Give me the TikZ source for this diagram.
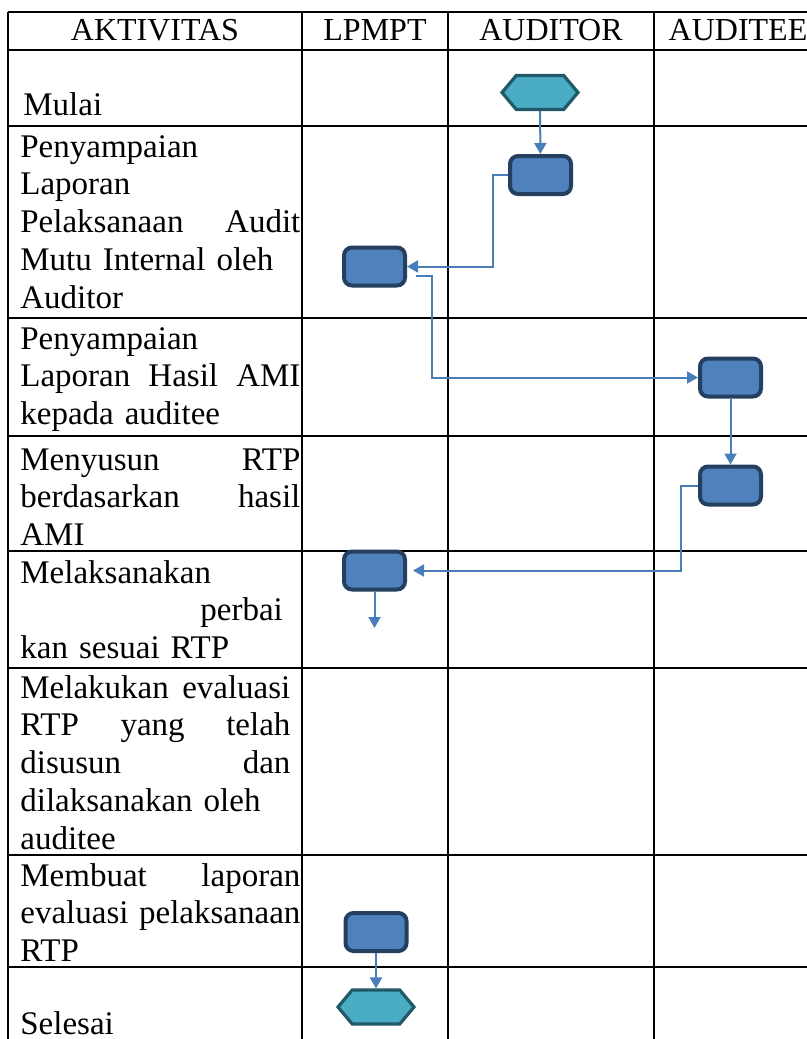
\documentclass[tikz,border=0pt]{standalone}
\usepackage{fontspec}
\setmainfont{Liberation Serif}
\usetikzlibrary{arrows.meta,shapes.symbols}

\definecolor{boxfill}{HTML}{4F81BD}
\definecolor{boxline}{HTML}{243F60}
\definecolor{hexfill}{HTML}{4BACC6}
\definecolor{hexline}{HTML}{215968}
\definecolor{flowline}{HTML}{4A7EBB}

\tikzset{
    actbox/.style={draw=boxline, fill=boxfill, line width=2pt, rounded corners=4pt,
        minimum width=30.5pt, minimum height=19pt, inner sep=0pt},
    terminal/.style={signal, signal to=west and east, signal pointer angle=100,
        draw=hexline, fill=hexfill, line width=1.6pt,
        minimum width=38pt, minimum height=17pt, inner sep=0pt},
    flow/.style={-{Triangle[length=5.5pt,width=6pt]}, draw=flowline, line width=1pt},
    tablerule/.style={line width=0.9pt, draw=black},
    head/.style={anchor=base, inner sep=0pt, font=\fontsize{16}{19}\selectfont},
    activity/.style={anchor=base west, inner sep=0pt, text width=140pt, align=left,
        font=\fontsize{16.5}{18.9}\selectfont}
}

\begin{document}
\begin{tikzpicture}[x=0.5pt, y=-0.5pt]
        \useasboundingbox (0,0) rectangle (807,1039);

        % Draw table rules
        \draw[tablerule] (8,12) -- (807,12);
        \draw[tablerule] (8,50) -- (807,50);
        \draw[tablerule] (8,126) -- (807,126);
        \draw[tablerule] (8,318) -- (807,318);
        \draw[tablerule] (8,436) -- (807,436);
        \draw[tablerule] (8,551) -- (807,551);
        \draw[tablerule] (8,668) -- (807,668);
        \draw[tablerule] (8,855) -- (807,855);
        \draw[tablerule] (8,967) -- (807,967);
        \draw[tablerule] (8,12) -- (8,1039);
        \draw[tablerule] (302,12) -- (302,1039);
        \draw[tablerule] (448,12) -- (448,1039);
        \draw[tablerule] (654,12) -- (654,1039);

        % Column headers
        \node[head] (hakt) at (155,40) {AKTIVITAS};
        \node[head] (hlpm) at (375,40) {LPMPT};
        \node[head] (haud) at (551,40) {AUDITOR};
        \node[head] (haut) at (738,40) {AUDITEE};

        % Activity texts, one node per row
        \node[activity] (row1) at (23,115) {Mulai};
        \node[activity] (row2) at (20,157) {Penyampaian\\ Laporan\\
            Pelaksanaan\hfill Audit\\ Mutu Internal oleh\\ Auditor};
        \node[activity] (row3) at (20,349) {Penyampaian\\
            Laporan\hfill Hasil\hfill AMI\\ kepada auditee};
        \node[activity] (row4) at (20,470) {Menyusun\hfill RTP\\
            berdasarkan\hfill hasil\\ AMI};
        \node[activity] (row5) at (20,583) {Melaksanakan\\
            \hspace*{90pt}perbai\\ kan sesuai RTP};
        \node[activity, text width=135pt] (row6) at (20,698) {Melakukan\hfill evaluasi\\
            RTP\hfill yang\hfill telah\\ disusun\hfill dan\\
            dilaksanakan oleh\\ auditee};
        \node[activity] (row7) at (20,886) {Membuat\hfill laporan\\
            evaluasi\hfill pelaksanaan\\ RTP};
        \node[activity] (row8) at (20,1034) {Selesai};

        % Flow shapes
        \node[terminal] (start) at (540,92.5) {};
        \node[actbox] (act1) at (540.5,175) {};
        \node[actbox] (act2) at (374.5,266.5) {};
        \node[actbox] (act3) at (730.5,377.5) {};
        \node[actbox] (act4) at (730.5,485.5) {};
        \node[actbox] (act5) at (374.5,570.5) {};
        \node[actbox] (act6) at (376,932) {};
        \node[terminal] (finish) at (376,1007) {};
        \coordinate (act5out) at (374.5,628);

        % Draw connectors
        \draw[flow] (start) -- (act1);
        \draw[flow] (act1.west) -- ++(-15,0) |- (act2.east);
        \draw[flow] ([shift={(9,9)}]act2.east) -- ++(16,0) |- (act3.west);
        \draw[flow] (act3) -- (act4);
        \draw[flow, shorten >=3pt] (act4.west) -- ++(-17,0) |- (act5.east);
        \draw[flow] (act5) -- (act5out);
        \draw[flow] (act6) -- (finish);
    \end{tikzpicture}
\end{document}
